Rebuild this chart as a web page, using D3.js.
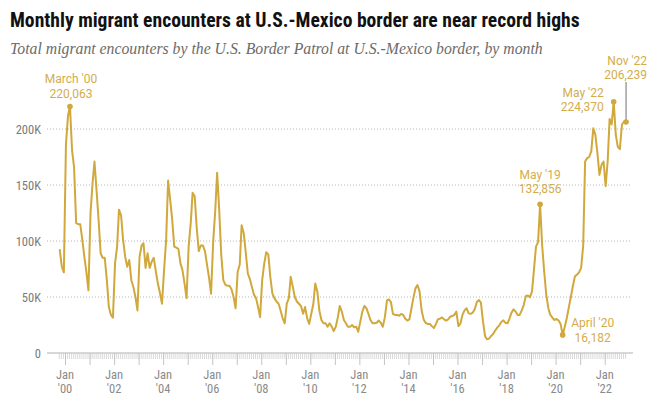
<!DOCTYPE html>
<html>
<head>
<meta charset="utf-8">
<script src="https://cdn.jsdelivr.net/npm/d3@7"></script>
<style>
  html, body { margin: 0; padding: 0; background: #fff; }
  svg { display: block; }
</style>
</head>
<body>
<svg id="chart" width="654" height="402"></svg>
<script>
// ---------------- DATA ----------------
const titleText = "Monthly migrant encounters at U.S.-Mexico border are near record highs";
const subtitleText = "Total migrant encounters by the U.S. Border Patrol at U.S.-Mexico border, by month";

// First and last month of the series (year, month index 0-11)
const firstMonth = [1999, 9];   // Oct 1999
const lastMonth = [2022, 10];   // Nov 2022

// Monthly encounters, Oct 1999 .. Nov 2022, grouped by fiscal year (Oct-Sep)
const fy2000 = [92000, 77000, 72000, 186000, 212000, 220063, 181000, 166000, 116000, 115000, 115000, 101000];
const fy2001 = [86000, 72000, 56000, 125000, 152000, 171000, 145000, 119000, 89000, 85000, 85000, 65000];
const fy2002 = [41000, 34000, 31500, 80000, 95000, 128000, 123000, 101000, 86000, 77000, 83000, 65000];
const fy2003 = [59000, 50000, 38000, 86000, 96000, 98000, 76000, 89000, 76000, 81500, 85000, 72600];
const fy2004 = [62000, 53500, 44000, 74000, 101000, 154000, 137000, 119000, 95000, 94000, 93000, 80000];
const fy2005 = [74000, 62000, 49000, 95000, 116000, 143000, 140000, 112000, 91000, 96000, 96000, 91000];
const fy2006 = [79000, 67000, 53000, 99000, 127000, 161000, 128000, 88000, 65000, 61000, 60000, 60000];
const fy2007 = [57000, 50000, 40000, 72600, 79000, 114000, 107000, 90000, 71000, 66000, 59000, 52000];
const fy2008 = [49000, 41000, 32000, 65000, 80000, 90000, 88000, 68000, 53000, 49000, 46000, 44000];
const fy2009 = [38000, 31000, 26500, 44000, 49000, 68000, 59000, 50000, 46000, 44000, 42000, 35000];
const fy2010 = [41000, 31000, 26000, 35000, 44000, 62000, 55000, 38000, 29500, 26500, 26500, 23500];
const fy2011 = [26500, 23500, 19600, 23500, 32000, 42000, 37000, 29500, 26500, 23500, 23500, 25000];
const fy2012 = [22900, 23500, 19000, 28000, 37000, 42000, 40000, 35000, 29500, 26500, 26500, 27000];
const fy2013 = [29000, 27000, 23500, 32000, 47000, 48000, 45500, 35000, 34000, 34000, 33300, 34800];
const fy2014 = [34000, 30600, 29000, 30000, 40000, 49000, 57700, 60700, 55000, 38400, 30000, 26800];
const fy2015 = [26000, 26000, 24000, 22300, 26000, 30000, 30600, 31800, 30000, 28900, 30000, 32400];
const fy2016 = [33000, 34000, 37000, 24000, 26500, 34000, 38000, 40000, 35400, 35000, 36000, 39300];
const fy2017 = [45500, 47300, 45000, 28000, 15000, 12200, 12800, 15200, 17000, 20000, 22600, 24700];
const fy2018 = [27700, 29200, 27000, 26500, 31000, 36000, 39000, 37000, 34000, 34000, 38000, 43000];
const fy2019 = [51000, 51300, 49700, 55000, 76000, 95000, 99000, 132856, 96000, 72600, 51800, 40000];
const fy2020 = [34000, 31500, 29500, 30400, 29000, 26000, 16182, 23000, 31000, 40500, 50000, 60000];
const fy2021 = [68500, 70000, 72000, 76000, 96000, 171000, 174000, 175000, 180000, 200600, 195000, 178000];
const fy2022 = [159000, 168000, 171000, 149000, 172000, 209000, 204000, 224370, 195000, 184000, 182000, 204000];
const fy2023 = [206500, 206239];

const encounters = [].concat(fy2000, fy2001, fy2002, fy2003, fy2004, fy2005, fy2006, fy2007,
  fy2008, fy2009, fy2010, fy2011, fy2012, fy2013, fy2014, fy2015, fy2016, fy2017, fy2018,
  fy2019, fy2020, fy2021, fy2022, fy2023);

const yTicks = [0, 50000, 100000, 150000, 200000];
const xLabelYears = [2000, 2002, 2004, 2006, 2008, 2010, 2012, 2014, 2016, 2018, 2020, 2022];

// Annotated points: [year, month index, line1, line2]
const annotations = [
  [2000, 2, "March '00", "220,063"],
  [2019, 4, "May '19", "132,856"],
  [2020, 3, "April '20", "16,182"],
  [2022, 4, "May '22", "224,370"],
  [2022, 10, "Nov '22", "206,239"]
];

// ---------------- CHART ----------------
const svg = d3.select("#chart");
const gold = "#d0a83c";
const goldText = "#d3ad4c";
const labelFont = "'Liberation Sans Narrow', 'Roboto Condensed', 'DejaVu Sans Condensed', Roboto, sans-serif";
const annFont = "Roboto, 'Liberation Sans', sans-serif";

const months = d3.timeMonth.range(new Date(firstMonth[0], firstMonth[1], 1),
                                  new Date(lastMonth[0], lastMonth[1] + 1, 1));
const data = months.map((m, i) => ({ date: new Date(m.getFullYear(), m.getMonth(), 15), value: encounters[i] }));

const x = d3.scaleTime()
  .domain([new Date(2000, 0, 1), new Date(2022, 0, 1)])
  .range([65, 604.7]);
const y = d3.scaleLinear().domain([0, 200000]).range([353, 129]);

const gridLeft = 47, gridRight = 632;

// Title & subtitle (fit to measured widths)
function fitText(sel, targetWidth) {
  const w = sel.node().getComputedTextLength();
  const fs = parseFloat(sel.attr("font-size"));
  sel.attr("font-size", (fs * targetWidth / w).toFixed(2));
}
const title = svg.append("text")
  .attr("x", 10).attr("y", 27)
  .attr("font-family", labelFont)
  .attr("font-weight", "bold")
  .attr("font-size", 19)
  .attr("fill", "#111")
  .text(titleText);
fitText(title, 570);

const subtitle = svg.append("text")
  .attr("x", 10).attr("y", 54)
  .attr("font-family", "'Liberation Serif', 'DejaVu Serif', serif")
  .attr("font-style", "italic")
  .attr("font-size", 15.5)
  .attr("fill", "#6b6b6b")
  .text(subtitleText);
fitText(subtitle, 533);

// Gridlines
svg.append("g")
  .selectAll("line")
  .data(yTicks.filter(d => d > 0))
  .join("line")
  .attr("x1", gridLeft).attr("x2", gridRight)
  .attr("y1", d => y(d)).attr("y2", d => y(d))
  .attr("stroke", "#b5b5b5")
  .attr("stroke-width", 1)
  .attr("stroke-dasharray", "1,2");

// Y axis labels
const yAxis = d3.axisLeft(y).tickValues(yTicks).tickSize(0).tickPadding(0)
  .tickFormat(d => d === 0 ? "0" : (d / 1000) + "K");
const gy = svg.append("g").attr("transform", "translate(41,0)").call(yAxis);
gy.select(".domain").remove();
gy.selectAll("text")
  .attr("font-family", labelFont)
  .attr("font-size", 12.5)
  .attr("fill", "#7a7a7a");

// Baseline
svg.append("line")
  .attr("x1", gridLeft).attr("x2", gridRight + 1)
  .attr("y1", y(0)).attr("y2", y(0))
  .attr("stroke", "#b0b0b0").attr("stroke-width", 1);

// Monthly minor ticks
const monthTicks = d3.timeMonth.range(new Date(firstMonth[0], firstMonth[1], 1),
                                      new Date(lastMonth[0], lastMonth[1], 2));
const minorAxis = d3.axisBottom(x).tickValues(monthTicks).tickSize(6).tickFormat("");
const gMinor = svg.append("g").attr("transform", `translate(0,${y(0)})`).call(minorAxis);
gMinor.select(".domain").remove();
gMinor.selectAll("line").attr("stroke", "#cfcfcf").attr("stroke-width", 0.8);

// Yearly major ticks with labels every two years
const yearTicks = d3.timeYear.range(new Date(2000, 0, 1), new Date(2023, 0, 1));
const majorAxis = d3.axisBottom(x).tickValues(yearTicks).tickSize(12).tickFormat("");
const gMajor = svg.append("g").attr("transform", `translate(0,${y(0)})`).call(majorAxis);
gMajor.select(".domain").remove();
gMajor.selectAll("line").attr("stroke", "#c4c4c4").attr("stroke-width", 1);

const xLabels = svg.append("g")
  .selectAll("text")
  .data(xLabelYears)
  .join("text")
  .attr("text-anchor", "middle")
  .attr("font-family", labelFont)
  .attr("font-size", 12.5)
  .attr("fill", "#8a8a8a");
xLabels.append("tspan")
  .attr("x", d => x(new Date(d, 0, 1)))
  .attr("y", 378.5)
  .text("Jan");
xLabels.append("tspan")
  .attr("x", d => x(new Date(d, 0, 1)))
  .attr("y", 393)
  .text(d => "'" + String(d).slice(2));

// Line
const line = d3.line()
  .x(d => x(d.date))
  .y(d => y(d.value))
  .curve(d3.curveLinear);
svg.append("path")
  .datum(data)
  .attr("d", line)
  .attr("fill", "none")
  .attr("stroke", gold)
  .attr("stroke-width", 2)
  .attr("stroke-linejoin", "round")
  .attr("stroke-linecap", "round");

// Annotations
const annData = annotations.map(a => {
  const d = data.find(p => p.date.getFullYear() === a[0] && p.date.getMonth() === a[1]);
  return { date: d.date, value: d.value, l1: a[2], l2: a[3] };
});

// Label placement (offsets from the point)
const placements = {
  "March '00": { dx: 1, anchor: "middle", y1: 83.3, y2: 97.5 },
  "May '19":   { dx: 0, anchor: "middle", y1: 179, y2: 193.2 },
  "April '20": { dx: 30, anchor: "middle", y1: 327.3, y2: 341.5 },
  "May '22":   { dx: -10, anchor: "end", y1: 96.7, y2: 110.9 },
  "Nov '22":   { dx: 21, anchor: "end", y1: 65, y2: 79.2 }
};

// Nov '22 leader line
const nov = annData.find(a => a.l1 === "Nov '22");
svg.append("line")
  .attr("x1", x(nov.date)).attr("x2", x(nov.date))
  .attr("y1", 82).attr("y2", y(nov.value) - 1)
  .attr("stroke", "#707070").attr("stroke-width", 1);

svg.append("g")
  .selectAll("circle")
  .data(annData)
  .join("circle")
  .attr("cx", d => x(d.date))
  .attr("cy", d => y(d.value))
  .attr("r", 2.8)
  .attr("fill", gold);

const annText = svg.append("g")
  .selectAll("text")
  .data(annData)
  .join("text")
  .attr("font-family", annFont)
  .attr("font-size", 12)
  .attr("fill", goldText)
  .attr("text-anchor", d => placements[d.l1].anchor);
annText.append("tspan")
  .attr("x", d => x(d.date) + placements[d.l1].dx)
  .attr("y", d => placements[d.l1].y1)
  .text(d => d.l1);
annText.append("tspan")
  .attr("x", d => x(d.date) + placements[d.l1].dx)
  .attr("y", d => placements[d.l1].y2)
  .text(d => d.l2);
</script>
</body>
</html>
